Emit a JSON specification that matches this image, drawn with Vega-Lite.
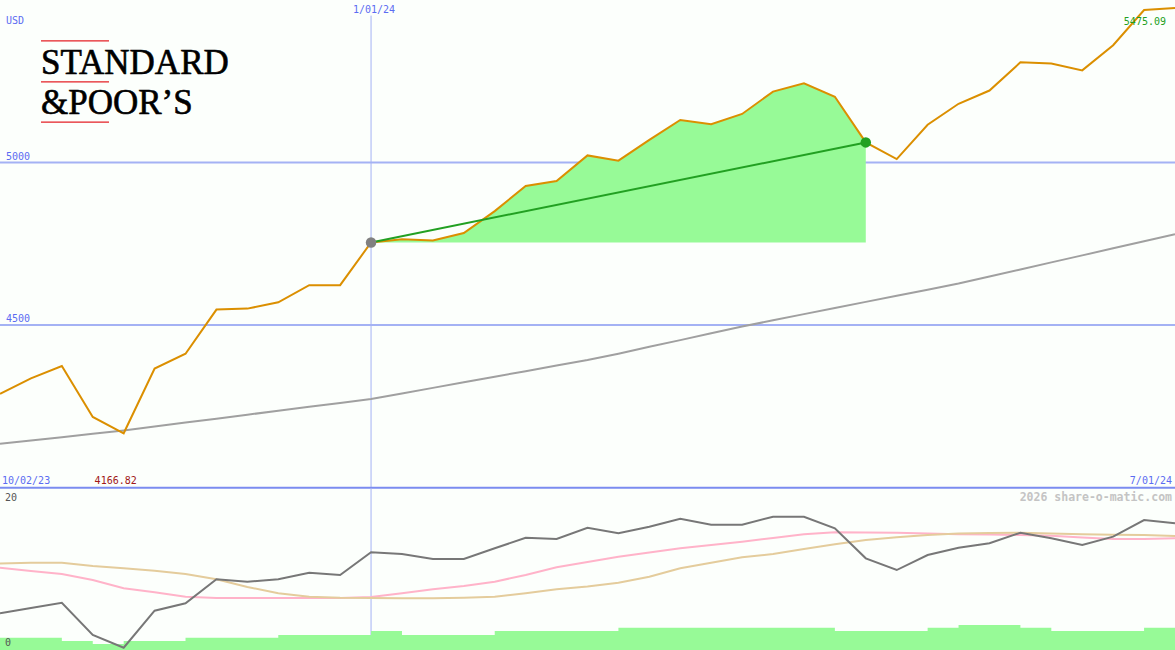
{
  "$schema": "https://vega.github.io/schema/vega-lite/v6.json",
  "background": "#fcfffc",
  "padding": 0,
  "width": 1175,
  "height": 650,
  "autosize": {"type": "none"},
  "config": {"view": {"stroke": null}, "axis": {"disable": true}},
  "datasets": {
    "main": [
      {"i": 0, "close": 4288.39, "ma": 4134.6, "osc": 4.98, "pink": 11.18, "tan": 11.75, "vol": 1.67},
      {"i": 1, "close": 4335.66, "ma": 4144.8, "osc": 5.70, "pink": 10.74, "tan": 11.86, "vol": 1.67},
      {"i": 2, "close": 4373.63, "ma": 4154.9, "osc": 6.42, "pink": 10.32, "tan": 11.86, "vol": 1.22},
      {"i": 3, "close": 4217.04, "ma": 4165.1, "osc": 2.04, "pink": 9.51, "tan": 11.41, "vol": 0.81},
      {"i": 4, "close": 4166.82, "ma": 4175.6, "osc": 0.31, "pink": 8.38, "tan": 11.10, "vol": 1.22},
      {"i": 5, "close": 4365.98, "ma": 4187.6, "osc": 5.34, "pink": 7.84, "tan": 10.77, "vol": 1.22},
      {"i": 6, "close": 4411.55, "ma": 4199.9, "osc": 6.34, "pink": 7.24, "tan": 10.32, "vol": 1.67},
      {"i": 7, "close": 4547.38, "ma": 4211.9, "osc": 9.60, "pink": 7.06, "tan": 9.60, "vol": 1.67},
      {"i": 8, "close": 4550.43, "ma": 4223.9, "osc": 9.28, "pink": 7.06, "tan": 8.56, "vol": 1.67},
      {"i": 9, "close": 4569.78, "ma": 4236.3, "osc": 9.60, "pink": 7.06, "tan": 7.70, "vol": 2.04},
      {"i": 10, "close": 4622.44, "ma": 4248.3, "osc": 10.50, "pink": 7.06, "tan": 7.24, "vol": 2.04},
      {"i": 11, "close": 4622.44, "ma": 4260.3, "osc": 10.19, "pink": 7.06, "tan": 7.10, "vol": 2.04},
      {"i": 12, "close": 4754.0, "ma": 4272.6, "osc": 13.27, "pink": 7.20, "tan": 7.06, "vol": 2.58},
      {"i": 13, "close": 4763.54, "ma": 4289.3, "osc": 13.04, "pink": 7.70, "tan": 7.02, "vol": 2.04},
      {"i": 14, "close": 4760.0, "ma": 4306.5, "osc": 12.36, "pink": 8.24, "tan": 7.02, "vol": 2.04},
      {"i": 15, "close": 4783.0, "ma": 4323.7, "osc": 12.36, "pink": 8.69, "tan": 7.10, "vol": 2.04},
      {"i": 16, "close": 4850.43, "ma": 4341.0, "osc": 13.81, "pink": 9.28, "tan": 7.24, "vol": 2.58},
      {"i": 17, "close": 4927.93, "ma": 4357.9, "osc": 15.25, "pink": 10.19, "tan": 7.70, "vol": 2.58},
      {"i": 18, "close": 4942.81, "ma": 4375.2, "osc": 15.07, "pink": 11.23, "tan": 8.24, "vol": 2.58},
      {"i": 19, "close": 5021.84, "ma": 4392.4, "osc": 16.61, "pink": 11.95, "tan": 8.62, "vol": 2.58},
      {"i": 20, "close": 5005.57, "ma": 4411.8, "osc": 15.85, "pink": 12.67, "tan": 9.14, "vol": 3.03},
      {"i": 21, "close": 5069.53, "ma": 4432.8, "osc": 16.74, "pink": 13.24, "tan": 9.95, "vol": 3.03},
      {"i": 22, "close": 5130.95, "ma": 4453.4, "osc": 17.83, "pink": 13.81, "tan": 11.10, "vol": 3.03},
      {"i": 23, "close": 5117.94, "ma": 4474.4, "osc": 17.02, "pink": 14.26, "tan": 11.86, "vol": 3.03},
      {"i": 24, "close": 5149.42, "ma": 4495.3, "osc": 17.02, "pink": 14.71, "tan": 12.59, "vol": 3.03},
      {"i": 25, "close": 5218.19, "ma": 4514.4, "osc": 18.10, "pink": 15.21, "tan": 13.04, "vol": 3.03},
      {"i": 26, "close": 5243.77, "ma": 4533.5, "osc": 18.10, "pink": 15.71, "tan": 13.72, "vol": 3.03},
      {"i": 27, "close": 5202.39, "ma": 4552.3, "osc": 16.53, "pink": 15.98, "tan": 14.35, "vol": 2.58},
      {"i": 28, "close": 5061.82, "ma": 4571.1, "osc": 12.45, "pink": 15.96, "tan": 14.94, "vol": 2.58},
      {"i": 29, "close": 5010.60, "ma": 4589.9, "osc": 10.86, "pink": 15.93, "tan": 15.31, "vol": 2.58},
      {"i": 30, "close": 5116.17, "ma": 4608.6, "osc": 12.90, "pink": 15.82, "tan": 15.62, "vol": 3.03},
      {"i": 31, "close": 5180.74, "ma": 4627.7, "osc": 13.89, "pink": 15.71, "tan": 15.82, "vol": 3.40},
      {"i": 32, "close": 5221.42, "ma": 4649.3, "osc": 14.49, "pink": 15.69, "tan": 15.89, "vol": 3.40},
      {"i": 33, "close": 5308.13, "ma": 4670.9, "osc": 15.93, "pink": 15.62, "tan": 15.93, "vol": 3.03},
      {"i": 34, "close": 5304.72, "ma": 4692.7, "osc": 15.17, "pink": 15.52, "tan": 15.82, "vol": 2.58},
      {"i": 35, "close": 5283.40, "ma": 4714.3, "osc": 14.26, "pink": 15.28, "tan": 15.71, "vol": 2.58},
      {"i": 36, "close": 5360.79, "ma": 4735.9, "osc": 15.39, "pink": 15.07, "tan": 15.66, "vol": 2.58},
      {"i": 37, "close": 5469.0, "ma": 4757.7, "osc": 17.65, "pink": 15.07, "tan": 15.62, "vol": 3.03},
      {"i": 38, "close": 5475.09, "ma": 4779.3, "osc": 17.21, "pink": 15.17, "tan": 15.48, "vol": 3.03}
    ],
    "trend": [
      {"i": 12, "v": 4754.0},
      {"i": 28, "v": 5061.82}
    ],
    "one": [{}]
  },
  "resolve": {"scale": {"y": "independent"}, "axis": {"y": "independent"}},
  "layer": [
    {
      "layer": [
        {"data": {"name": "one"}, "mark": {"type": "rule", "color": "#a4b2f4", "strokeWidth": 2}, "encoding": {
          "x": {"datum": 0, "type": "quantitative", "scale": {"domain": [0, 38], "nice": false, "zero": false}, "axis": null}, "x2": {"datum": 38},
          "y": {"datum": 5000, "type": "quantitative", "scale": {"domain": [3500, 5500], "nice": false, "zero": false}, "axis": null}}},
        {"data": {"name": "one"}, "mark": {"type": "rule", "color": "#a4b2f4", "strokeWidth": 2}, "encoding": {
          "x": {"datum": 0, "type": "quantitative", "scale": {"domain": [0, 38], "nice": false, "zero": false}, "axis": null}, "x2": {"datum": 38},
          "y": {"datum": 4500, "type": "quantitative", "scale": {"domain": [3500, 5500], "nice": false, "zero": false}, "axis": null}}},
        {"data": {"name": "one"}, "mark": {"type": "rule", "color": "#a4b2f4", "strokeWidth": 1}, "encoding": {
          "x": {"datum": 12, "type": "quantitative", "scale": {"domain": [0, 38], "nice": false, "zero": false}, "axis": null},
          "y": {"datum": 3998, "type": "quantitative", "scale": {"domain": [3500, 5500], "nice": false, "zero": false}, "axis": null},
          "y2": {"datum": 5452}}},
        {"data": {"name": "main"}, "transform": [{"filter": "datum.i >= 12 && datum.i <= 28"}],
          "mark": {"type": "area", "color": "#97fa97", "opacity": 1},
          "encoding": {
            "x": {"field": "i", "type": "quantitative", "scale": {"domain": [0, 38], "nice": false, "zero": false}, "axis": null},
            "y": {"field": "close", "type": "quantitative", "scale": {"domain": [3500, 5500], "nice": false, "zero": false}, "axis": null},
            "y2": {"datum": 4754}}},
        {"data": {"name": "main"}, "mark": {"type": "line", "color": "#a0a0a0", "strokeWidth": 2},
          "encoding": {
            "x": {"field": "i", "type": "quantitative", "scale": {"domain": [0, 38], "nice": false, "zero": false}, "axis": null},
            "y": {"field": "ma", "type": "quantitative", "scale": {"domain": [3500, 5500], "nice": false, "zero": false}, "axis": null}}},
        {"data": {"name": "main"}, "mark": {"type": "line", "color": "#db8f00", "strokeWidth": 2},
          "encoding": {
            "x": {"field": "i", "type": "quantitative", "scale": {"domain": [0, 38], "nice": false, "zero": false}, "axis": null},
            "y": {"field": "close", "type": "quantitative", "scale": {"domain": [3500, 5500], "nice": false, "zero": false}, "axis": null}}},
        {"data": {"name": "trend"}, "mark": {"type": "line", "color": "#22a022", "strokeWidth": 2},
          "encoding": {
            "x": {"field": "i", "type": "quantitative", "scale": {"domain": [0, 38], "nice": false, "zero": false}, "axis": null},
            "y": {"field": "v", "type": "quantitative", "scale": {"domain": [3500, 5500], "nice": false, "zero": false}, "axis": null}}},
        {"data": {"name": "trend"}, "transform": [{"filter": "datum.i == 12"}],
          "mark": {"type": "point", "filled": true, "color": "#808080", "opacity": 1, "size": 110},
          "encoding": {
            "x": {"field": "i", "type": "quantitative", "scale": {"domain": [0, 38], "nice": false, "zero": false}, "axis": null},
            "y": {"field": "v", "type": "quantitative", "scale": {"domain": [3500, 5500], "nice": false, "zero": false}, "axis": null}}},
        {"data": {"name": "trend"}, "transform": [{"filter": "datum.i == 28"}],
          "mark": {"type": "point", "filled": true, "color": "#22a022", "opacity": 1, "size": 110},
          "encoding": {
            "x": {"field": "i", "type": "quantitative", "scale": {"domain": [0, 38], "nice": false, "zero": false}, "axis": null},
            "y": {"field": "v", "type": "quantitative", "scale": {"domain": [3500, 5500], "nice": false, "zero": false}, "axis": null}}},
        {"data": {"name": "one"}, "mark": {"type": "rule", "color": "#7b8cf0", "strokeWidth": 2}, "encoding": {
          "x": {"datum": 0, "type": "quantitative", "scale": {"domain": [0, 38], "nice": false, "zero": false}, "axis": null}, "x2": {"datum": 38},
          "y": {"datum": 3999, "type": "quantitative", "scale": {"domain": [3500, 5500], "nice": false, "zero": false}, "axis": null}}},
        {"data": {"name": "one"}, "mark": {"type": "text", "text": "USD", "font": "DejaVu Sans Mono", "fontSize": 10, "color": "#5b6cf2", "align": "left", "baseline": "alphabetic"},
          "encoding": {"x": {"datum": 0.19, "type": "quantitative", "scale": {"domain": [0, 38], "nice": false, "zero": false}, "axis": null}, "y": {"datum": 5425, "type": "quantitative", "scale": {"domain": [3500, 5500], "nice": false, "zero": false}, "axis": null}}},
        {"data": {"name": "one"}, "mark": {"type": "text", "text": "5000", "font": "DejaVu Sans Mono", "fontSize": 10, "color": "#5b6cf2", "align": "left", "baseline": "alphabetic", "dy": -3},
          "encoding": {"x": {"datum": 0.19, "type": "quantitative", "scale": {"domain": [0, 38], "nice": false, "zero": false}, "axis": null}, "y": {"datum": 5000, "type": "quantitative", "scale": {"domain": [3500, 5500], "nice": false, "zero": false}, "axis": null}}},
        {"data": {"name": "one"}, "mark": {"type": "text", "text": "4500", "font": "DejaVu Sans Mono", "fontSize": 10, "color": "#5b6cf2", "align": "left", "baseline": "alphabetic", "dy": -3},
          "encoding": {"x": {"datum": 0.19, "type": "quantitative", "scale": {"domain": [0, 38], "nice": false, "zero": false}, "axis": null}, "y": {"datum": 4500, "type": "quantitative", "scale": {"domain": [3500, 5500], "nice": false, "zero": false}, "axis": null}}},
        {"data": {"name": "one"}, "mark": {"type": "text", "text": "1/01/24", "font": "DejaVu Sans Mono", "fontSize": 10, "color": "#5b6cf2", "align": "center", "baseline": "alphabetic", "dx": 3},
          "encoding": {"x": {"datum": 12, "type": "quantitative", "scale": {"domain": [0, 38], "nice": false, "zero": false}, "axis": null}, "y": {"datum": 5459, "type": "quantitative", "scale": {"domain": [3500, 5500], "nice": false, "zero": false}, "axis": null}}},
        {"data": {"name": "one"}, "mark": {"type": "text", "text": "10/02/23", "font": "DejaVu Sans Mono", "fontSize": 10, "color": "#5b6cf2", "align": "left", "baseline": "alphabetic", "dx": 2, "dy": -4},
          "encoding": {"x": {"datum": 0, "type": "quantitative", "scale": {"domain": [0, 38], "nice": false, "zero": false}, "axis": null}, "y": {"datum": 3998, "type": "quantitative", "scale": {"domain": [3500, 5500], "nice": false, "zero": false}, "axis": null}}},
        {"data": {"name": "one"}, "mark": {"type": "text", "text": "4166.82", "font": "DejaVu Sans Mono", "fontSize": 10, "color": "#a01818", "align": "center", "baseline": "alphabetic", "dx": -8, "dy": -4},
          "encoding": {"x": {"datum": 4, "type": "quantitative", "scale": {"domain": [0, 38], "nice": false, "zero": false}, "axis": null}, "y": {"datum": 3998, "type": "quantitative", "scale": {"domain": [3500, 5500], "nice": false, "zero": false}, "axis": null}}},
        {"data": {"name": "one"}, "mark": {"type": "text", "text": "7/01/24", "font": "DejaVu Sans Mono", "fontSize": 10, "color": "#5b6cf2", "align": "right", "baseline": "alphabetic", "dx": -3, "dy": -4},
          "encoding": {"x": {"datum": 38, "type": "quantitative", "scale": {"domain": [0, 38], "nice": false, "zero": false}, "axis": null}, "y": {"datum": 3998, "type": "quantitative", "scale": {"domain": [3500, 5500], "nice": false, "zero": false}, "axis": null}}},
        {"data": {"name": "one"}, "mark": {"type": "text", "text": "5475.09", "font": "DejaVu Sans Mono", "fontSize": 10, "color": "#22a022", "align": "right", "baseline": "alphabetic", "dx": -9},
          "encoding": {"x": {"datum": 38, "type": "quantitative", "scale": {"domain": [0, 38], "nice": false, "zero": false}, "axis": null}, "y": {"datum": 5423, "type": "quantitative", "scale": {"domain": [3500, 5500], "nice": false, "zero": false}, "axis": null}}},
        {"data": {"name": "one"}, "mark": {"type": "rule", "color": "#e42026", "strokeWidth": 1.2}, "encoding": {"x": {"datum": 1.326, "type": "quantitative", "scale": {"domain": [0, 38], "nice": false, "zero": false}, "axis": null}, "x2": {"datum": 3.525}, "y": {"datum": 5374, "type": "quantitative", "scale": {"domain": [3500, 5500], "nice": false, "zero": false}, "axis": null}}},
        {"data": {"name": "one"}, "mark": {"type": "rule", "color": "#e42026", "strokeWidth": 1.2}, "encoding": {"x": {"datum": 1.326, "type": "quantitative", "scale": {"domain": [0, 38], "nice": false, "zero": false}, "axis": null}, "x2": {"datum": 3.525}, "y": {"datum": 5248, "type": "quantitative", "scale": {"domain": [3500, 5500], "nice": false, "zero": false}, "axis": null}}},
        {"data": {"name": "one"}, "mark": {"type": "rule", "color": "#e42026", "strokeWidth": 1.2}, "encoding": {"x": {"datum": 1.326, "type": "quantitative", "scale": {"domain": [0, 38], "nice": false, "zero": false}, "axis": null}, "x2": {"datum": 3.525}, "y": {"datum": 5124.5, "type": "quantitative", "scale": {"domain": [3500, 5500], "nice": false, "zero": false}, "axis": null}}},
        {"data": {"name": "one"}, "mark": {"type": "text", "text": "STANDARD", "font": "Liberation Serif", "fontSize": 35, "color": "#000000", "stroke": "#000000", "strokeWidth": 0.6, "align": "left", "baseline": "alphabetic"},
          "encoding": {"x": {"datum": 1.326, "type": "quantitative", "scale": {"domain": [0, 38], "nice": false, "zero": false}, "axis": null}, "y": {"datum": 5272, "type": "quantitative", "scale": {"domain": [3500, 5500], "nice": false, "zero": false}, "axis": null}}},
        {"data": {"name": "one"}, "mark": {"type": "text", "text": "&POOR’S", "font": "Liberation Serif", "fontSize": 35, "color": "#000000", "stroke": "#000000", "strokeWidth": 0.6, "align": "left", "baseline": "alphabetic"},
          "encoding": {"x": {"datum": 1.326, "type": "quantitative", "scale": {"domain": [0, 38], "nice": false, "zero": false}, "axis": null}, "y": {"datum": 5149, "type": "quantitative", "scale": {"domain": [3500, 5500], "nice": false, "zero": false}, "axis": null}}}
      ]
    },
    {
      "layer": [
        {"data": {"name": "one"}, "mark": {"type": "rule", "color": "#a4b2f4", "strokeWidth": 1}, "encoding": {
          "x": {"datum": 12, "type": "quantitative", "scale": {"domain": [0, 38], "nice": false, "zero": false}, "axis": null},
          "y": {"datum": 0, "type": "quantitative", "scale": {"domain": [0, 88.27], "nice": false}, "axis": null},
          "y2": {"datum": 22}}},
        {"data": {"name": "main"}, "mark": {"type": "area", "color": "#97fa97", "opacity": 1, "interpolate": "step-after"},
          "encoding": {
            "x": {"field": "i", "type": "quantitative", "scale": {"domain": [0, 38], "nice": false, "zero": false}, "axis": null},
            "y": {"field": "vol", "type": "quantitative", "scale": {"domain": [0, 88.27], "nice": false}, "axis": null}}},
        {"data": {"name": "main"}, "mark": {"type": "line", "color": "#ffb3c9", "strokeWidth": 2},
          "encoding": {
            "x": {"field": "i", "type": "quantitative", "scale": {"domain": [0, 38], "nice": false, "zero": false}, "axis": null},
            "y": {"field": "pink", "type": "quantitative", "scale": {"domain": [0, 88.27], "nice": false}, "axis": null}}},
        {"data": {"name": "main"}, "mark": {"type": "line", "color": "#e4cc9c", "strokeWidth": 2},
          "encoding": {
            "x": {"field": "i", "type": "quantitative", "scale": {"domain": [0, 38], "nice": false, "zero": false}, "axis": null},
            "y": {"field": "tan", "type": "quantitative", "scale": {"domain": [0, 88.27], "nice": false}, "axis": null}}},
        {"data": {"name": "main"}, "mark": {"type": "line", "color": "#777777", "strokeWidth": 2},
          "encoding": {
            "x": {"field": "i", "type": "quantitative", "scale": {"domain": [0, 38], "nice": false, "zero": false}, "axis": null},
            "y": {"field": "osc", "type": "quantitative", "scale": {"domain": [0, 88.27], "nice": false}, "axis": null}}},
        {"data": {"name": "one"}, "mark": {"type": "text", "text": "20", "font": "DejaVu Sans Mono", "fontSize": 10, "color": "#555555", "align": "left", "baseline": "alphabetic", "dx": 5, "dy": -2},
          "encoding": {"x": {"datum": 0, "type": "quantitative", "scale": {"domain": [0, 38], "nice": false, "zero": false}, "axis": null}, "y": {"datum": 20, "type": "quantitative", "scale": {"domain": [0, 88.27], "nice": false}, "axis": null}}},
        {"data": {"name": "one"}, "mark": {"type": "text", "text": "0", "font": "DejaVu Sans Mono", "fontSize": 10, "color": "#555555", "align": "left", "baseline": "alphabetic", "dx": 5, "dy": -4},
          "encoding": {"x": {"datum": 0, "type": "quantitative", "scale": {"domain": [0, 38], "nice": false, "zero": false}, "axis": null}, "y": {"datum": 0, "type": "quantitative", "scale": {"domain": [0, 88.27], "nice": false}, "axis": null}}},
        {"data": {"name": "one"}, "mark": {"type": "text", "text": "2026 share-o-matic.com", "font": "DejaVu Sans Mono", "fontSize": 11.5, "fontWeight": "bold", "color": "#c4c4c4", "align": "right", "baseline": "alphabetic", "dx": -3},
          "encoding": {"x": {"datum": 38, "type": "quantitative", "scale": {"domain": [0, 38], "nice": false, "zero": false}, "axis": null}, "y": {"datum": 20.28, "type": "quantitative", "scale": {"domain": [0, 88.27], "nice": false}, "axis": null}}}
      ]
    }
  ]
}
